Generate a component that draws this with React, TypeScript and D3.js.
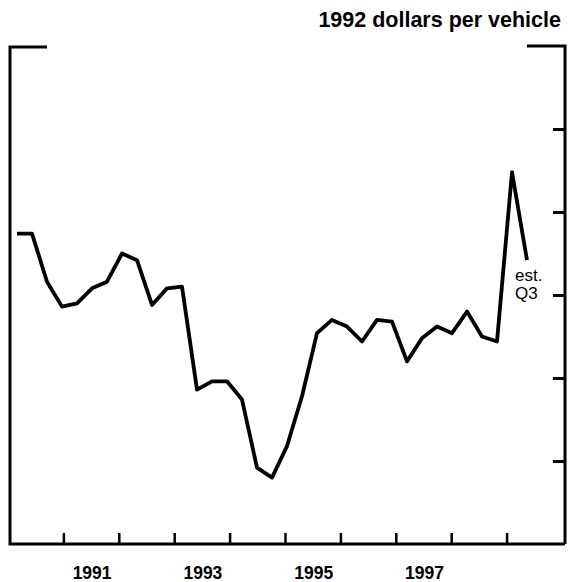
import * as d3 from "d3";
import React, { useEffect, useRef } from "react";

// quarterly, 1990 Q1 .. 1998 Q3 (last one estimated)
const QUARTERS = d3.range(1990, 1999).flatMap(y => [1, 2, 3, 4].map(q => `${y} Q${q}`)).slice(0, 35);
const VALUES = [
  1870, 1870, 1580, 1430, 1450, 1540, 1580, 1750, 1710, 1440,
  1540, 1550, 930, 980, 980, 870, 460, 400, 590, 890,
  1270, 1350, 1310, 1220, 1350, 1340, 1100, 1240, 1310, 1270,
  1400, 1250, 1220, 2240, 1710,
];
const YEAR_TICKS = [1991, 1992, 1993, 1994, 1995, 1996, 1997, 1998, 1999];
const YEAR_LABELS = [1991, 1993, 1995, 1997];
const Y_TICKS = [500, 1000, 1500, 2000, 2500];

const W = 568;
const H = 582;
const FONT = "'Liberation Sans', Arial, Helvetica, sans-serif";

function drawChart(el: SVGSVGElement) {
  const svg = d3.select(el);
  svg.selectAll("*").remove();

  const left = 10, right = 565, top = 46, bottom = 544;

  const x = d3.scaleLinear().domain([1990, 2000]).range([8, 562]);
  // the plotted line in the original is spaced a little wider than the year axis
  const xq = d3.scaleLinear().domain([0, QUARTERS.length - 1]).range([17, 527]);
  const y = d3.scaleLinear().domain([0, 3000]).range([bottom, top]);

  // frame: left line, bottom line, right line, short top stubs
  const frame = svg.append("g").attr("stroke", "#000").attr("stroke-width", 3).attr("fill", "none");
  frame.append("path").attr("d", `M${left + 37},${top + 1}H${left}V${bottom}H${right}`);
  frame.append("path").attr("d", `M${right - 38},${top}H${right}V${bottom}`);

  // bottom ticks pointing up
  const xAxis = svg
    .append("g")
    .attr("transform", `translate(0,${bottom})`)
    .call(d3.axisTop(x).tickValues(YEAR_TICKS).tickSize(11).tickFormat(() => ""));
  xAxis.select(".domain").remove();
  xAxis.selectAll("line").attr("stroke-width", 2.5);

  // right ticks pointing in
  const yAxis = svg
    .append("g")
    .attr("transform", `translate(${right},0)`)
    .call(d3.axisLeft(y).tickValues(Y_TICKS).tickSize(12).tickFormat(() => ""));
  yAxis.select(".domain").remove();
  yAxis.selectAll("line").attr("stroke-width", 3);

  // year labels, centred in their year
  svg
    .append("g")
    .selectAll("text")
    .data(YEAR_LABELS)
    .join("text")
    .attr("x", d => x(d + 0.5) + 1)
    .attr("y", 579)
    .attr("text-anchor", "middle")
    .attr("font-family", FONT)
    .attr("font-weight", "bold")
    .attr("font-size", 17.5)
    .text(d => d);

  svg
    .append("text")
    .attr("x", 561)
    .attr("y", 27)
    .attr("text-anchor", "end")
    .attr("font-family", FONT)
    .attr("font-weight", "bold")
    .attr("font-size", 21.5)
    .text("1992 dollars per vehicle");

  const line = d3
    .line<number>()
    .x((_, i) => xq(i))
    .y(d => y(d));

  svg
    .append("path")
    .datum(VALUES)
    .attr("d", line)
    .attr("fill", "none")
    .attr("stroke", "#000")
    .attr("stroke-width", 3.8)
    .attr("stroke-linejoin", "round");

  const last = VALUES.length - 1;
  const note = svg
    .append("text")
    .attr("font-family", FONT)
    .attr("font-size", 17)
    .attr("x", xq(last) - 12)
    .attr("y", y(VALUES[last]) + 21);
  note.append("tspan").text("est.");
  note.append("tspan").attr("x", xq(last) - 12).attr("dy", 18).text("Q3");
}

export default function App() {
  const ref = useRef<SVGSVGElement>(null);

  useEffect(() => {
    if (ref.current) drawChart(ref.current);
  }, []);

  return (
    <svg
      ref={ref}
      width={W}
      height={H}
      style={{ position: "absolute", left: 0, top: 0, background: "#fff" }}
    />
  );
}
